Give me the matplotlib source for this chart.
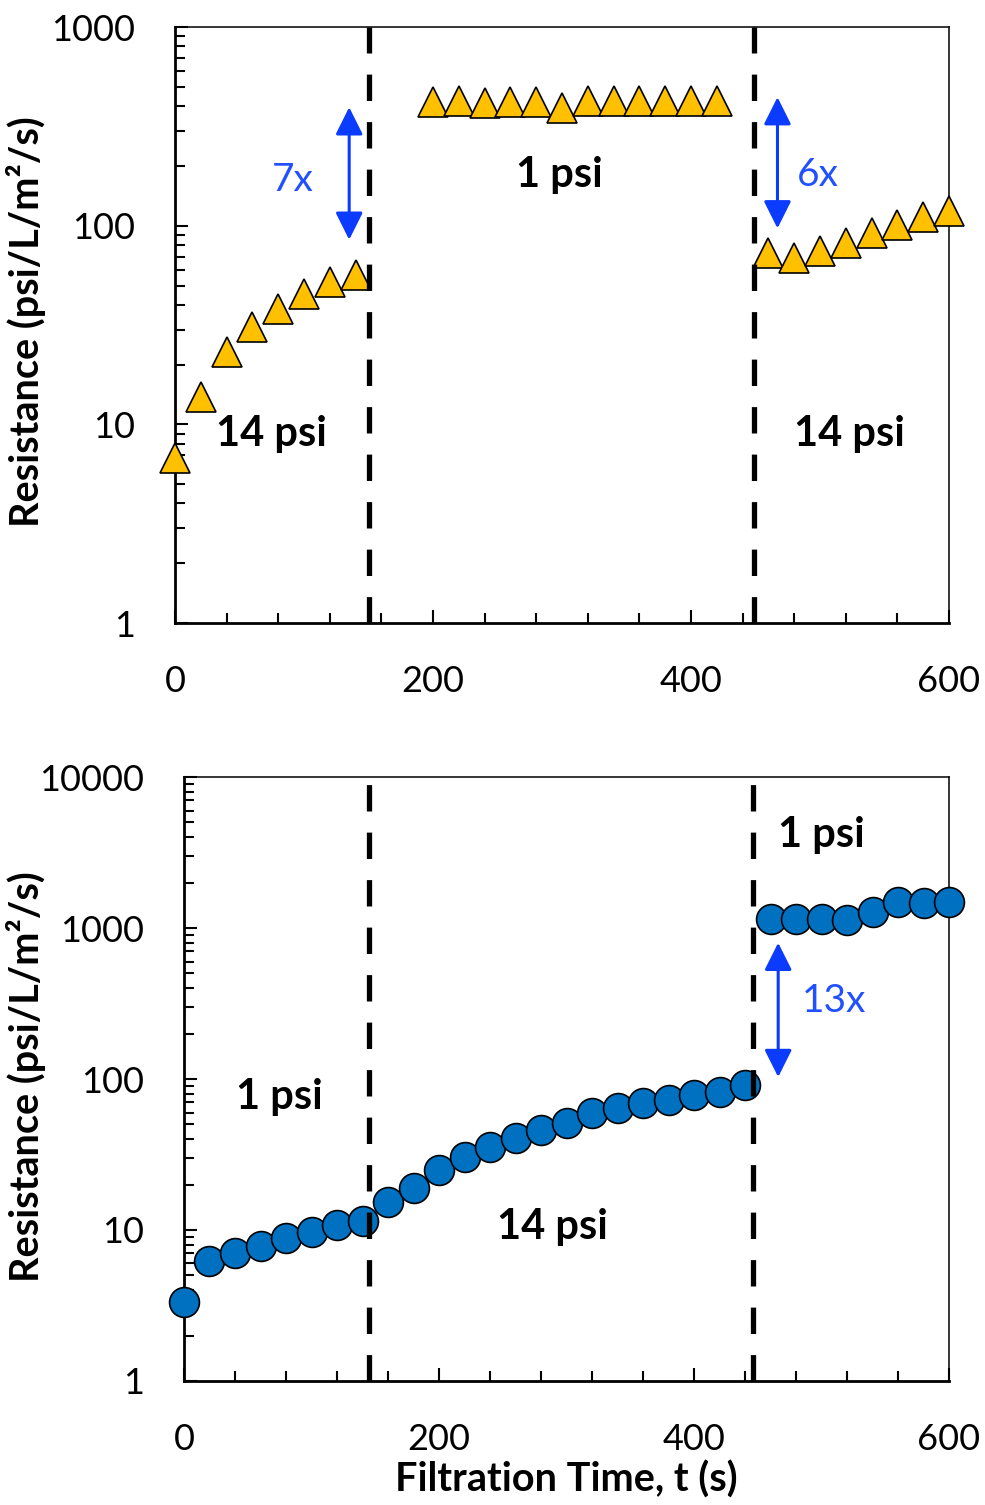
import matplotlib
matplotlib.use('Agg')
import matplotlib.pyplot as plt
from matplotlib.ticker import MultipleLocator, LogLocator, FuncFormatter, NullFormatter

plt.rcParams['font.family'] = ['Lato', 'DejaVu Sans']

# ========== data ==========
# top panel (14 psi -> 1 psi -> 14 psi), triangles
t_top = [0, 20, 40, 60, 80, 100, 120, 140,
         200, 220, 240, 260, 280, 300, 320, 340, 360, 380, 400, 420,
         460, 480, 500, 520, 540, 560, 580, 600]
r_top = [6.8, 13.7, 23.1, 30.9, 38.3, 45.5, 52.0, 56.4,
         421, 424, 414, 421, 422, 392, 424, 426, 426, 426, 426, 426,
         73.1, 68.7, 75.0, 82.2, 91.8, 101, 110.5, 119]

# bottom panel (1 psi -> 14 psi -> 1 psi), circles
t_bot = [0, 20, 40, 60, 80, 100, 120, 140,
         160, 180, 200, 220, 240, 260, 280, 300, 320, 340, 360, 380, 400, 420, 440,
         460, 480, 500, 520, 540, 560, 580, 600]
r_bot = [3.35, 6.23, 7.0, 7.87, 8.9, 9.7, 10.8, 11.5,
         15.4, 18.9, 25.0, 30.6, 35.3, 40.5, 45.9, 51.4, 59.6, 64.0, 69.0, 72.6, 78.3, 82.4, 91.2,
         1155, 1145, 1140, 1135, 1282, 1480, 1470, 1494]

switch_top = [150, 449]
switch_bot = [145, 446]

# annotations: (x, y, text)
psi_top = [(75, 9.0, '14 psi'), (298, 180, '1 psi'), (523, 9.0, '14 psi')]
psi_bot = [(75, 76, '1 psi'), (289, 10.5, '14 psi'), (500, 4130, '1 psi')]
fold_top = [(91, 170, '7x'), (498, 180, '6x')]
fold_bot = [(510, 329, '13x')]
arrows_top = [(135, 395, 85), (467, 444, 97)]
arrows_bot = [(466, 799, 103)]

gold = '#FFC000'
blue = '#0070C0'
arrow_blue = '#0B3BFF'
text_blue = '#2050FF'


def style_axes(ax, ymax):
    ax.set_yscale('log')
    ax.set_xlim(0, 600)
    ax.set_ylim(1, ymax)
    ax.xaxis.set_major_locator(MultipleLocator(200))
    ax.xaxis.set_minor_locator(MultipleLocator(40))
    ax.yaxis.set_major_locator(LogLocator(base=10))
    ax.yaxis.set_minor_locator(LogLocator(base=10, subs=range(2, 10), numticks=20))
    ax.yaxis.set_major_formatter(FuncFormatter(lambda v, p: '{:.0f}'.format(v)))
    ax.yaxis.set_minor_formatter(NullFormatter())
    ax.tick_params(which='both', direction='in', top=False, right=False, width=1.5, labelsize=26)
    ax.tick_params(which='major', length=9.5)
    ax.tick_params(which='minor', length=7)
    ax.tick_params(axis='x', pad=30)
    ax.tick_params(axis='y', pad=29)
    for s in ['left', 'bottom']:
        ax.spines[s].set_linewidth(2.0)
    for s in ['top', 'right']:
        ax.spines[s].set_linewidth(1.1)


def add_arrow(ax, x, y1, y2):
    ax.annotate('', xy=(x, y1), xytext=(x, y2),
                arrowprops=dict(arrowstyle='<|-|>,head_length=0.4,head_width=0.2',
                                mutation_scale=42, lw=2.2, color=arrow_blue,
                                shrinkA=0, shrinkB=0), zorder=5)


fig = plt.figure(figsize=(9.85, 15.05), dpi=100)
ax1 = fig.add_axes([0.1777, 0.586, 0.7858, 0.396])
ax2 = fig.add_axes([0.1868, 0.0824, 0.7767, 0.4013])

# ========== top panel ==========
style_axes(ax1, 1000)
ax1.plot(t_top, r_top, linestyle='none', marker='^', markersize=21.5,
         markerfacecolor=gold, markeredgecolor='black', markeredgewidth=1.2,
         clip_on=False, zorder=3)
for xs in switch_top:
    ax1.axvline(xs, color='black', lw=3.8, linestyle=(0, (5, 4)), zorder=4)
for x, y, s in psi_top:
    ax1.text(x, y, s, fontsize=30, fontweight='bold', ha='center', va='center')
for x, y, s in fold_top:
    ax1.text(x, y, s, fontsize=28, color=text_blue, ha='center', va='center')
for x, y1, y2 in arrows_top:
    add_arrow(ax1, x, y1, y2)

# ========== bottom panel ==========
style_axes(ax2, 10000)
ax2.plot(t_bot, r_bot, linestyle='none', marker='o', markersize=21.5,
         markerfacecolor=blue, markeredgecolor='black', markeredgewidth=1.2,
         clip_on=False, zorder=3)
for xs in switch_bot:
    ax2.axvline(xs, color='black', lw=3.8, linestyle=(0, (5, 4)), zorder=4)
for x, y, s in psi_bot:
    ax2.text(x, y, s, fontsize=30, fontweight='bold', ha='center', va='center')
for x, y, s in fold_bot:
    ax2.text(x, y, s, fontsize=28, color=text_blue, ha='center', va='center')
for x, y1, y2 in arrows_bot:
    add_arrow(ax2, x, y1, y2)

# axis labels
ylab = 'Resistance (psi/L/m\u00b2/s)'
fig.text(26 / 985, 1 - 322 / 1505, ylab, rotation=90, fontsize=28.5, fontweight='bold',
         ha='center', va='center')
fig.text(26 / 985, 1 - 1077 / 1505, ylab, rotation=90, fontsize=28.5, fontweight='bold',
         ha='center', va='center')
fig.text(566 / 985, 1 - 1480 / 1505, 'Filtration Time, t (s)', fontsize=28.5,
         fontweight='bold', ha='center', va='center')

fig.savefig('out.png', dpi=100)
